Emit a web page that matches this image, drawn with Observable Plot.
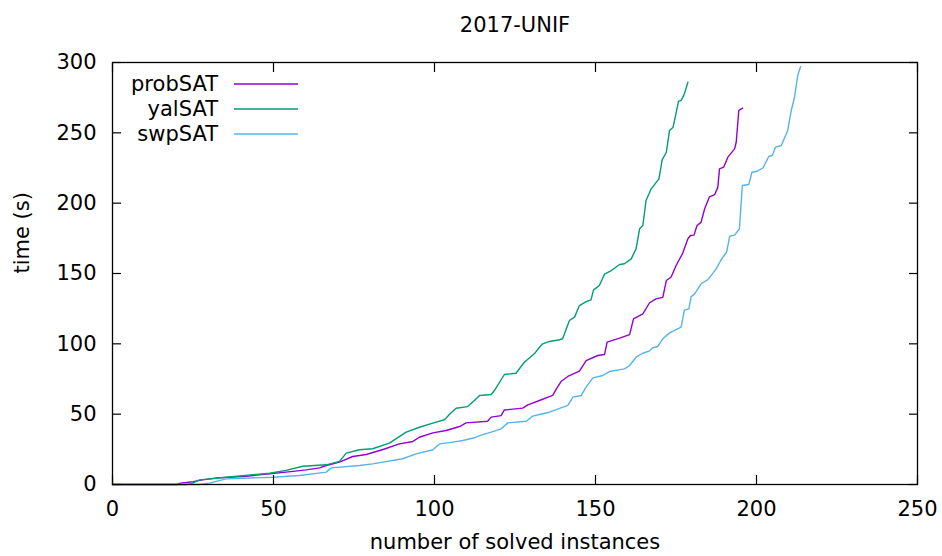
<!DOCTYPE html>
<html><head><meta charset="utf-8">
<script src="https://cdn.jsdelivr.net/npm/d3@7"></script>
<script src="https://cdn.jsdelivr.net/npm/@observablehq/plot@0.6"></script>
<style>body{margin:0;background:#fff}#chart{width:942px;height:556px}</style>
</head><body><div id="chart"></div>
<script>
const title = "2017-UNIF";
const xLabel = "number of solved instances";
const yLabel = "time (s)";
const xTicks = [0, 50, 100, 150, 200, 250];
const yTicks = [0, 50, 100, 150, 200, 250, 300];
const solvers = ["probSAT", "yalSAT", "swpSAT"];
const colors = ["#9400d3", "#009e73", "#56b4e9"];

const probX = [0,20,21,25,28,32.7,40.5,48.8,53.9,60.2,64.3,66.4,70.5,74.6,78.8,84,89.1,93.3,95.3,99.5,103.6,107.8,109.8,116.5,117.6,120.7,121.7,127.4,129,132.6,136.7,138,139.3,141.4,145,147.1,150.7,152.8,153.6,157.5,160.6,161.8,164.7,166.8,168.8,170.9,172,173.5,175,177.1,178.7,179.5,180.6,181.5,182.8,183.9,185.4,187,188,188.5,189.8,191.1,193.2,193.7,194.5,195.7];
const probY = [0,0,1,2,3.3,4.7,5.7,7.6,8.8,10.4,11.8,13.5,15.9,19.9,21.3,24.9,28.9,30.6,33.6,36.7,38.4,41.2,43.8,45,47.9,49,53,54.3,56.6,59.7,63.3,68.5,73.2,76.8,80.6,88.1,91.7,92.4,101.2,104,106.6,117.8,121.3,129.2,132,133,145,147.5,155.5,164.5,174.7,177,177.3,184,186.5,196,204.5,206,211.4,224.4,225.6,232.7,238.6,243.3,265.9,267.5];

const yalX = [0,23,24.9,27,35.3,48.8,53.9,59.1,66.4,70.5,72.6,76.7,80.8,86,91.2,95.3,99.5,103.1,104.7,106.7,110.3,112.4,114,117.6,118.6,121.7,125.3,127.9,131,132.6,133.6,135.7,138.8,139.8,141.9,143.5,145,147.1,148.6,149.4,151.2,152.8,154.9,157.5,159,161.1,162.6,163.7,164.7,165.7,167.3,169.7,170.7,172,173,174.1,175.8,176.6,177.6,178.7];
const yalY = [0,0,1,3.3,5.2,8,10,13,14,16.4,22.3,24.7,25.4,29.4,37.2,40.7,43.6,46,50,54.2,55.4,59.7,63.3,64,66.8,78.2,79.1,86.9,92.9,97.6,100,101.7,102.9,103.6,116.6,119,127.2,130,131.3,138.4,141.5,149.5,152.1,156.4,156.9,160.4,167.5,181.8,184.1,201.9,210.2,217.3,230.8,236.2,251.7,254,272.5,273,277.7,286];

const swpX = [0,27,30.1,35.3,49.8,58.1,66.4,67.9,76.7,80.8,90.1,94.3,99.5,101.6,105.7,108.8,112.4,114,117.6,120.7,122.8,128.5,130.5,132.6,135.7,141.4,143,145.6,146.9,149.2,152.3,154.3,159,160.6,162.6,164.7,166.8,167.8,169.3,170.9,173,176.6,177.6,179,179.7,180.7,182.8,184.9,187.5,189,190.7,191.7,193.2,194.7,195.6,197.6,198.6,199.9,202,203.8,204.9,205.9,207.7,209.7,210.8,211.8,212.8,213.7];
const swpY = [0,0,1,4,5.2,6.4,8.8,11.8,13.5,14.7,18.3,21.8,24.7,28.9,30.1,31.3,33.2,34.8,37.2,39.6,43.8,45,48.6,49.8,51.4,56.2,62.1,63.3,68.7,75.8,77.5,80.3,82.2,84.6,90.5,93.3,95,97.2,98.1,103.6,107.8,111.8,124,124.9,133.6,135.1,142.7,145.6,153.3,159.8,165.1,176.6,177.3,181.8,212.6,213.3,222,222.5,225,233.2,233.9,239.8,241,251.7,265.9,275.3,290.7,297.1];

const seriesX = [probX, yalX, swpX];
const seriesY = [probY, yalY, swpY];
const rows = solvers.flatMap((s, i) => seriesX[i].map((x, j) => ({solver: s, x, y: seriesY[i][j]})));

const FS = 21;
const chart = Plot.plot({
  width: 942, height: 556,
  marginLeft: 112, marginRight: 25, marginTop: 62, marginBottom: 72,
  style: {fontFamily: "DejaVu Sans", fontSize: FS + "px", background: "white", color: "black", overflow: "visible"},
  x: {domain: [0, 250]},
  y: {domain: [0, 300]},
  color: {domain: solvers, range: colors},
  marks: [
    Plot.line(rows, {x: "x", y: "y", z: "solver", stroke: "solver", strokeWidth: 1.4}),
    Plot.axisX(xTicks, {anchor: "bottom", tickSize: -9, tickPadding: 26, label: null, fontSize: FS, strokeWidth: 1.2}),
    Plot.axisX(xTicks, {anchor: "top", tickSize: -9, tickFormat: () => "", label: null, strokeWidth: 1.2}),
    Plot.axisY(yTicks, {anchor: "left", tickSize: -9, tickPadding: 25, label: null, fontSize: FS, strokeWidth: 1.2}),
    Plot.axisY(yTicks, {anchor: "right", tickSize: -9, tickFormat: () => "", label: null, strokeWidth: 1.2}),
    Plot.frame({stroke: "black", strokeWidth: 1.3}),
    Plot.text([title], {text: d => d, frameAnchor: "top", dy: -37, fontSize: FS, lineAnchor: "middle"}),
    Plot.text([xLabel], {text: d => d, frameAnchor: "bottom", dy: 58, fontSize: FS, lineAnchor: "middle"}),
    Plot.text([yLabel], {text: d => d, frameAnchor: "left", dx: -90, rotate: -90, fontSize: FS, lineAnchor: "middle"})
  ]
});
document.getElementById("chart").appendChild(chart);

// legend (inside the plot, top-left)
const svg = d3.select(chart);
const lg = svg.append("g").attr("font-family", "DejaVu Sans").attr("font-size", FS + "px");
solvers.forEach((s, i) => {
  const yy = 84 + i * 25;
  lg.append("text").attr("x", 218).attr("y", yy).attr("dy", "0.35em").attr("text-anchor", "end").attr("fill", "black").text(s);
  lg.append("line").attr("x1", 234).attr("x2", 298).attr("y1", yy).attr("y2", yy).attr("stroke", colors[i]).attr("stroke-width", 1.4);
});
</script></body></html>
